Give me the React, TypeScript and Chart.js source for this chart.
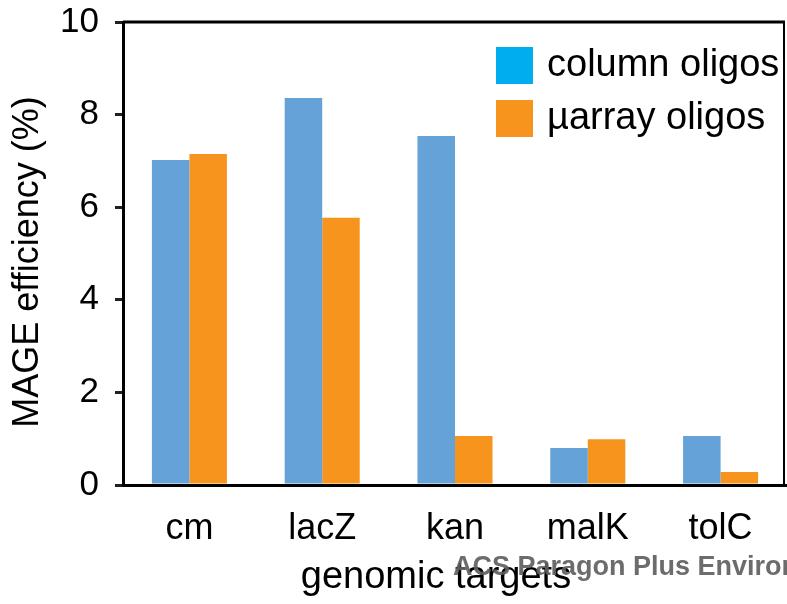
import React, { useEffect, useRef } from "react";
import { Chart, registerables } from "chart.js";

Chart.register(...registerables);

const categories = ["cm", "lacZ", "kan", "malK", "tolC"];
const seriesNames = ["column oligos", "\u00b5array oligos"];
const columnOligos = [7.02, 8.36, 7.54, 0.8, 1.06];
const arrayOligos = [7.15, 5.77, 1.06, 0.99, 0.28];
const yTicks = [0, 2, 4, 6, 8, 10];
const barColors = ["#65a2d8", "#f7941e"];
const legendColors = ["#00aeef", "#f7941e"];
const yTitle = "MAGE efficiency (%)";
const xTitle = "genomic targets";
const watermark = "ACS Paragon Plus Environment";

const FONT = '"Liberation Sans", Arial, Helvetica, sans-serif';

const decor = {
  id: "decor",
  afterDraw(chart: any) {
    const { ctx, chartArea: a } = chart;
    ctx.save();
    // frame top and right
    ctx.strokeStyle = "#000";
    ctx.lineWidth = 3;
    ctx.beginPath();
    ctx.moveTo(a.left, a.top);
    ctx.lineTo(a.right - 2, a.top);
    ctx.stroke();
    ctx.lineWidth = 2;
    ctx.beginPath();
    ctx.moveTo(a.right - 3, a.top);
    ctx.lineTo(a.right - 3, a.bottom);
    ctx.stroke();

    // legend
    ctx.font = `38px ${FONT}`;
    ctx.textAlign = "left";
    ctx.textBaseline = "middle";
    const ly = [47, 100];
    seriesNames.forEach((name, i) => {
      ctx.fillStyle = legendColors[i];
      ctx.fillRect(496, ly[i], 37, 37);
      ctx.fillStyle = "#000";
      ctx.fillText(name, 547, ly[i] + 19);
    });

    // y title
    ctx.save();
    ctx.translate(28, 262);
    ctx.rotate(-Math.PI / 2);
    ctx.textAlign = "center";
    ctx.textBaseline = "middle";
    ctx.fillStyle = "#000";
    ctx.font = `36px ${FONT}`;
    ctx.fillText(yTitle, 0, 0);
    ctx.restore();

    // x title
    ctx.textAlign = "center";
    ctx.textBaseline = "middle";
    ctx.fillStyle = "#000";
    ctx.font = `38px ${FONT}`;
    ctx.fillText(xTitle, 436, 578);

    // watermark
    ctx.textAlign = "left";
    ctx.font = `bold 27px ${FONT}`;
    ctx.fillStyle = "rgba(95,95,95,0.92)";
    ctx.fillText(watermark, 453, 568);
    ctx.restore();
  },
};

export default function App() {
  const ref = useRef<HTMLCanvasElement | null>(null);
  useEffect(() => {
    if (!ref.current) return;
    const chart = new Chart(ref.current, {
      type: "bar",
      data: {
        labels: categories,
        datasets: [
          { label: seriesNames[0], data: columnOligos, backgroundColor: barColors[0], borderWidth: 0 },
          { label: seriesNames[1], data: arrayOligos, backgroundColor: barColors[1], borderWidth: 0 },
        ],
      },
      options: {
        responsive: false,
        animation: false,
        devicePixelRatio: 1,
        layout: { padding: { top: 22, right: 0, left: 0, bottom: 0 } },
        datasets: { bar: { categoryPercentage: 0.565, barPercentage: 1.0 } },
        plugins: { legend: { display: false }, tooltip: { enabled: false }, title: { display: false } },
        scales: {
          x: {
            afterFit: (s: any) => {
              s.height = 119;
              s.paddingLeft = 0;
              s.paddingRight = 0;
              s.paddingTop = 0;
              s.paddingBottom = 0;
            },
            grid: { display: false },
            border: { display: true, color: "#000", width: 3 },
            ticks: { color: "#000", font: { family: FONT, size: 36, lineHeight: 1.0 }, padding: 18, maxRotation: 0 },
          },
          y: {
            min: 0,
            max: 10,
            afterFit: (s: any) => {
              s.width = 123;
              s.paddingTop = 0;
              s.paddingBottom = 0;
              s.paddingLeft = 0;
              s.paddingRight = 0;
            },
            afterBuildTicks: (s: any) => {
              s.ticks = yTicks.map((v) => ({ value: v }));
            },
            grid: { drawOnChartArea: false, drawTicks: true, tickLength: 8, color: "#231f20", lineWidth: 3 },
            border: { display: true, color: "#000", width: 3 },
            ticks: { color: "#000", font: { family: FONT, size: 35, lineHeight: 1.0 }, padding: 16 },
          },
        },
      },
      plugins: [decor],
    });
    return () => chart.destroy();
  }, []);
  return (
    <div style={{ position: "absolute", left: 0, top: 0, width: 787, height: 604, background: "#fff" }}>
      <canvas ref={ref} width={787} height={604} style={{ display: "block" }} />
    </div>
  );
}
